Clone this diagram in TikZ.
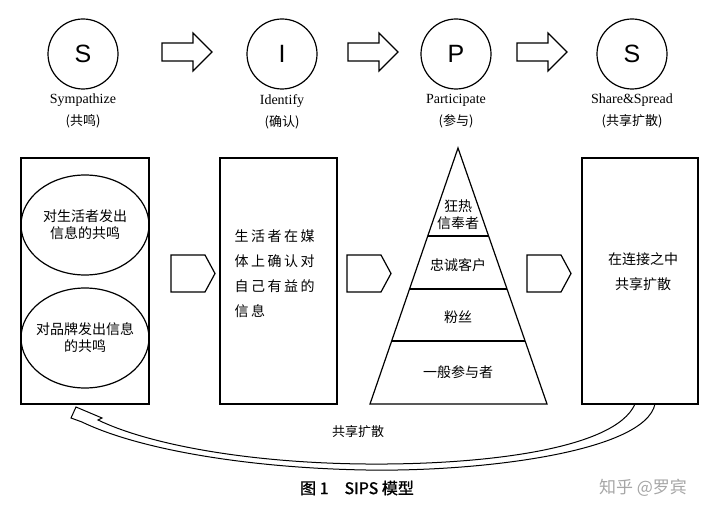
\documentclass[tikz,border=0pt]{standalone}
\usepackage{fontspec}
\setmainfont{Liberation Serif}
\setsansfont{Liberation Sans}
\newfontfamily\cjk{Noto Sans CJK SC}
\newfontfamily\cjkwide[LetterSpace=18]{Noto Sans CJK SC}
\newfontfamily\cjkbold[FakeBold=1.2]{Noto Sans CJK SC}
\usetikzlibrary{positioning,calc,shapes.geometric}

\begin{document}
\begin{tikzpicture}[x=1pt,y=-1pt,line width=1.2pt,
  stage/.style={circle,draw,minimum size=70pt,inner sep=0pt,font=\sffamily\fontsize{25}{25}\selectfont},
  stagename/.style={align=center,inner sep=0pt,font=\fontsize{14}{22}\selectfont},
  panel/.style={draw,minimum height=246pt,inner sep=0pt},
  cjktext/.style={align=center,inner sep=0pt,font=\cjk\fontsize{14}{17}\selectfont}]
\useasboundingbox (0,0) rectangle (720,513);
% The four stages
\node[stage] (symp) at (83,54) {S};
\node[stage] (ident) at (282,54) {I};
\node[stage] (part) at (456,54) {P};
\node[stage] (share) at (632,54) {S};
\node[stagename,below=4pt of symp] {Sympathize\\{\cjk\fontsize{13}{13}\selectfont(共鸣)}};
\node[stagename,below=4pt of ident] {Identify\\{\cjk\fontsize{13}{13}\selectfont(确认)}};
\node[stagename,below=4pt of part] {Participate\\{\cjk\fontsize{13}{13}\selectfont(参与)}};
\node[stagename,below=4pt of share] {Share\&Spread\\{\cjk\fontsize{13}{13}\selectfont(共享扩散)}};
% Block arrows between the stages
\foreach \x in {162,348,517}
  \draw (\x,43) -- ({\x+31},43) -- ({\x+31},33) -- ({\x+50},52) -- ({\x+31},71) -- ({\x+31},61) -- (\x,61) -- cycle;
% Curved arrow back to the first panel
\draw[line width=1pt,fill=white] (76,407) -- (102,418) -- (98,420) .. controls (150,445) and (250,463) .. (366,464)
  .. controls (480,465) and (615,450) .. (635,404) -- (655,404) .. controls (645,452) and (480,472) .. (366,470)
  .. controls (250,468) and (140,450) .. (82,422) -- (71,418) -- cycle;
\node[font=\cjk\fontsize{13}{13}\selectfont] (back) at (358,432) {共享扩散};
% Panels
\node[panel,minimum width=128pt] (sympbox) at (85,281) {};
\node[draw,ellipse,minimum width=128pt,minimum height=100pt,inner sep=0pt] (info) at (85,225) {};
\node[cjktext] at (info) {对生活者发出\\信息的共鸣};
\node[draw,ellipse,minimum width=128pt,minimum height=100pt,inner sep=0pt] (brand) at (85,338) {};
\node[cjktext] at (brand) {对品牌发出信息\\的共鸣};
\node[panel,minimum width=117pt] (identbox) at (278.5,281) {};
\node[anchor=north west,align=left,inner sep=0pt,font=\cjkwide\fontsize{14}{25}\selectfont] at (234,229)
  {生活者在媒\\体上确认对\\自己有益的\\信息};
\node[panel,minimum width=116pt] (sharebox) at (640,281) {};
\node[align=center,inner sep=0pt,font=\cjk\fontsize{14}{25}\selectfont] at (643,272) {在连接之中\\共享扩散};
% Pentagon arrows between the panels
\foreach \x in {171,347,527}
  \draw (\x,255) -- ({\x+34},255) -- ({\x+44},273.5) -- ({\x+34},292) -- (\x,292) -- cycle;
% Pyramid
\coordinate (apex) at (458,148);
\coordinate (bl) at (370,404);
\coordinate (br) at (547,404);
\draw (apex) -- (bl) -- (br) -- cycle;
\foreach \f in {0.344,0.551,0.754}
  \draw ($(apex)!\f!(bl)$) -- ($(apex)!\f!(br)$);
\node[cjktext] at (458,215) {狂热\\信奉者};
\node[cjktext] at (458,265) {忠诚客户};
\node[cjktext] at (458,317) {粉丝};
\node[cjktext] at (458,372) {一般参与者};
% Caption
\node[font=\cjkbold\fontsize{16}{16}\selectfont] (caption) at (357,488) {图 1\quad SIPS 模型};
\node[font=\cjk\fontsize{17}{17}\selectfont,text=black!35] (mark) at (643,488) {知乎 @罗宾};
\end{tikzpicture}
\end{document}
